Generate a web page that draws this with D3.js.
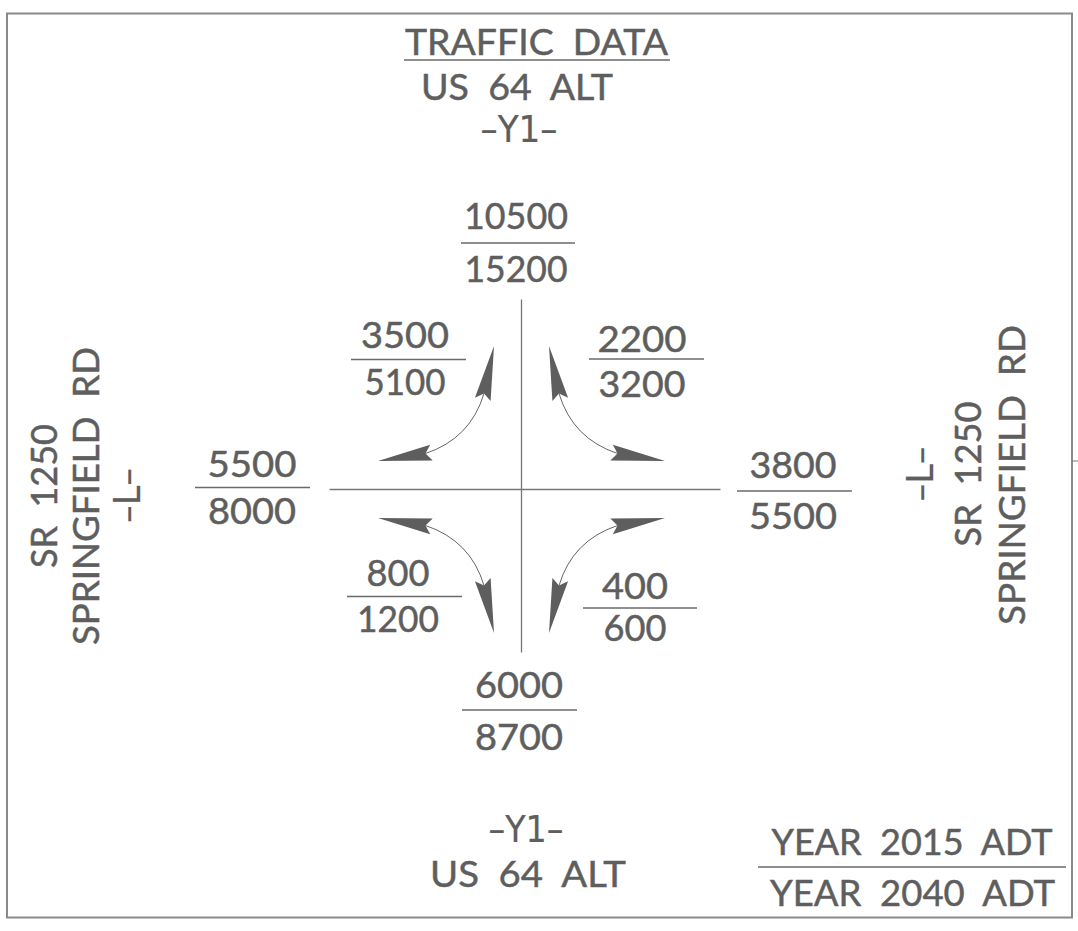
<!DOCTYPE html>
<html>
<head>
<meta charset="utf-8">
<script src="https://cdn.jsdelivr.net/npm/d3@7"></script>
<style>
  body { margin: 0; background: #fff; }
  text { font-family: Lato, "Noto Sans", sans-serif; fill: #5e5e5e; stroke: #5e5e5e; stroke-width: 0.5; white-space: pre; }
  text.tag { font-family: "DejaVu Sans", sans-serif; stroke-width: 0.2; }
</style>
</head>
<body>
<div class="map"></div>
<script>
var width = 1078, height = 931;

// approach volumes (2015 over 2040)
var approaches = ["N", "S", "W", "E"];
var adt2015 = [10500, 6000, 5500, 3800];
var adt2040 = [15200, 8700, 8000, 5500];

// turning movements by quadrant
var turns = ["NW", "NE", "SW", "SE"];
var turn2015 = [3500, 2200, 800, 400];
var turn2040 = [5100, 3200, 1200, 600];

// labels
var titleText = "TRAFFIC  DATA";
var yRoadName = "US  64  ALT";
var yAlign = "\u2013Y1\u2013";
var lRoadName = ["SR  1250", "SPRINGFIELD  RD"];
var lAlign = "\u2013L\u2013";
var legendText = ["YEAR  2015  ADT", "YEAR  2040  ADT"];

// layout: where each fraction sits
var approachPos = {
  N: {cx: 516, b1: 229, ly: 243, b2: 282, w1: 104, w2: 103, lx0: 461, lx1: 575},
  S: {cx: 519, b1: 698, ly: 710, b2: 750, w1: 88, w2: 88, lx0: 462, lx1: 577},
  W: {cx: 252, b1: 477, ly: 487.5, b2: 524, w1: 89, w2: 88, lx0: 195, lx1: 310},
  E: {cx: 793, b1: 478, ly: 491, b2: 529, w1: 87, w2: 88, lx0: 737, lx1: 852}
};
var turnPos = {
  NW: {cx: 405, b1: 348, ly: 359.5, b2: 394.5, w1: 88, w2: 81, lx0: 351, lx1: 466, sx: -1, sy: -1},
  NE: {cx: 642, b1: 351.5, ly: 359, b2: 396.5, w1: 89, w2: 87, lx0: 589, lx1: 704, sx: 1, sy: -1},
  SW: {cx: 398, b1: 586, ly: 596.5, b2: 631.5, w1: 63, w2: 82, lx0: 347, lx1: 462, sx: -1, sy: 1},
  SE: {cx: 635, b1: 599, ly: 608, b2: 641, w1: 66, w2: 63, lx0: 583, lx1: 697, sx: 1, sy: 1}
};

var svg = d3.select(".map").append("svg").attr("width", width).attr("height", height);
var fs = 37;
var ink = "#6a6a6a";

// intersection centre, and scales from offsets to pixels
var cx0 = 521.5, cy0 = 489.5;
var xs = d3.scaleLinear().domain([-1, 1]).range([cx0 - 1, cx0 + 1]);
var ys = d3.scaleLinear().domain([-1, 1]).range([cy0 - 1, cy0 + 1]);

// frame
svg.append("rect").attr("x", 7).attr("y", 13.5).attr("width", 1065).attr("height", 904)
  .attr("fill", "none").attr("stroke", "#8a8a8a").attr("stroke-width", 2);
svg.append("line").attr("x1", 1072).attr("x2", 1078).attr("y1", 461).attr("y2", 461)
  .attr("stroke", "#777").attr("stroke-width", 1);

function txt(x, y, s, w, anchor) {
  return svg.append("text").attr("x", x).attr("y", y).attr("font-size", fs)
    .attr("text-anchor", anchor || "middle")
    .attr("textLength", w).attr("lengthAdjust", "spacingAndGlyphs").text(s);
}
function hline(x0, x1, y, sw) {
  svg.append("line").attr("x1", x0).attr("x2", x1).attr("y1", y).attr("y2", y)
    .attr("stroke", ink).attr("stroke-width", sw || 1.3);
}
function vtext(x, y, s, len) {
  return svg.append("text").attr("transform", "translate(" + x + "," + y + ") rotate(-90)")
    .attr("font-size", fs).attr("text-anchor", "middle")
    .attr("textLength", len).attr("lengthAdjust", "spacingAndGlyphs").text(s);
}

// title block
txt(536.5, 55, titleText, 263);
hline(404, 670, 60);
txt(517, 100, yRoadName, 192);
txt(519, 142, yAlign, 77).attr("class", "tag");

// bottom road name
txt(526, 842, yAlign, 75).attr("class", "tag");
txt(528, 887, yRoadName, 196);

// side road names (rotated)
vtext(57, 496, lRoadName[0], 144);
vtext(99, 496, lRoadName[1], 298);
vtext(140, 495.5, lAlign, 55).attr("class", "tag");
vtext(933, 474, lAlign, 55).attr("class", "tag");
vtext(981, 474, lRoadName[0], 145);
vtext(1025, 475, lRoadName[1], 300);

// legend
txt(912, 855, legendText[0], 281);
hline(758, 1066, 867);
txt(912.5, 906, legendText[1], 285);

// road centre lines
svg.append("line").attr("x1", xs(0)).attr("x2", xs(0)).attr("y1", ys(-190)).attr("y2", ys(163))
  .attr("stroke", "#777").attr("stroke-width", 1.3);
svg.append("line").attr("x1", xs(-192)).attr("x2", xs(199)).attr("y1", ys(0)).attr("y2", ys(0))
  .attr("stroke", "#777").attr("stroke-width", 1.3);

// approach volumes
approaches.forEach(function(a, i) {
  var p = approachPos[a];
  txt(p.cx, p.b1, String(adt2015[i]), p.w1);
  hline(p.lx0, p.lx1, p.ly);
  txt(p.cx, p.b2, String(adt2040[i]), p.w2);
});

// turning volumes and arrows
var vTip = [27.5, 143.5], vBase = [37.5, 96], hTip = [143.5, 28.5], hBase = [96, 36], ctrl = [51, 51];

function head(tip, base) {
  var dx = tip[0] - base[0], dy = tip[1] - base[1];
  var L = Math.sqrt(dx * dx + dy * dy), ux = dx / L, uy = dy / L, px = -uy, py = ux;
  var w = 8, k = 6;
  return [tip,
    [base[0] + px * w - ux * k, base[1] + py * w - uy * k],
    base,
    [base[0] - px * w - ux * k, base[1] - py * w - uy * k]];
}

turns.forEach(function(t, i) {
  var p = turnPos[t];
  txt(p.cx, p.b1, String(turn2015[i]), p.w1);
  hline(p.lx0, p.lx1, p.ly);
  txt(p.cx, p.b2, String(turn2040[i]), p.w2);

  var P = function(q) { return [xs(p.sx * q[0]), ys(p.sy * q[1])]; };
  var a = P(vBase), c = P(ctrl), b = P(hBase);
  svg.append("path")
    .attr("d", "M" + a[0] + "," + a[1] + " Q" + c[0] + "," + c[1] + " " + b[0] + "," + b[1])
    .attr("fill", "none").attr("stroke", "#666").attr("stroke-width", 1);
  [[vTip, vBase], [hTip, hBase]].forEach(function(h) {
    svg.append("path")
      .attr("d", d3.line()(head(P(h[0]), P(h[1]))) + "Z")
      .attr("fill", "#5e5e5e");
  });
});
</script>
</body>
</html>
